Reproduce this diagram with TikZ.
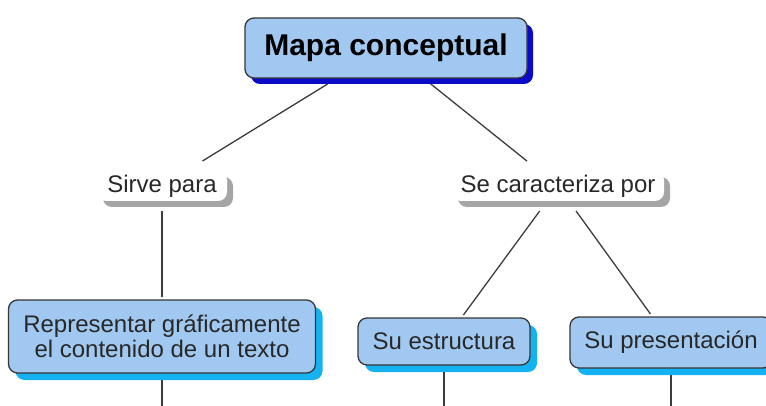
\documentclass[tikz,border=0pt]{standalone}
\usepackage{fontspec}
\setmainfont{Liberation Sans}
\usetikzlibrary{shadows}
\definecolor{concept colour}{RGB}{160,200,240}
\definecolor{title shadow colour}{RGB}{10,10,200}
\definecolor{concept shadow colour}{RGB}{20,178,240}
\definecolor{phrase shadow colour}{RGB}{165,165,165}
\definecolor{border colour}{RGB}{55,55,55}
\definecolor{link colour}{RGB}{60,60,60}
\definecolor{text colour}{RGB}{40,40,40}
\tikzset{
    % Plain dark connectors between the boxes
    link/.style={draw=link colour, line width=1.3pt},
%
    % Shadows are solid, not faded
    solid shadow/.style={drop shadow={
        shadow xshift=#1, shadow yshift=-#1, opacity=1}},
%
    % We almost always want centre aligned node text
    every node/.style={align=center},
}
\pgfdeclarelayer{background}
\pgfsetlayers{background,main}

\begin{document}
\begin{tikzpicture}[
    x=1pt, y=-1pt,
    basic box/.style={
        draw=border colour, line width=1.3pt, rounded corners=9pt,
        fill=concept colour, inner sep=0},
    title box/.style={
        basic box, font=\fontsize{30}{36}\selectfont\bfseries,
        minimum width=282pt, minimum height=60pt, outer sep=6pt,
        solid shadow=6pt, every shadow/.append style={fill=title shadow colour}},
    concept/.style={
        basic box, text=text colour, font=\fontsize{24}{25}\selectfont,
        outer sep=3pt,
        solid shadow=7pt, every shadow/.append style={fill=concept shadow colour}},
    phrase/.style={
        fill=white, rounded corners=9pt, text=text colour,
        font=\fontsize{24}{25}\selectfont, minimum height=30pt,
        inner sep=0, outer sep=10pt,
        solid shadow=6pt, every shadow/.append style={fill=phrase shadow colour}},
]

\useasboundingbox (0,0) rectangle (766,406);
\clip (0,0) rectangle (766,406);
\coordinate (page bottom) at (0,406);

% Place the boxes
\path
    (386,48) node [title box] (mapa) {Mapa conceptual}
    (162,186) node [phrase, minimum width=130pt] (sirve) {Sirve para}
    (558,186) node [phrase, minimum width=212pt] (caract) {Se caracteriza por}
    (162,336.5) node [concept, minimum width=307pt, minimum height=73pt]
        (rep) {Representar gráficamente\\el contenido de un texto}
    (444,341.5) node [concept, minimum width=172pt, minimum height=47pt]
        (estructura) {Su estructura}
    (671,342.5) node [concept, minimum width=202pt, minimum height=51pt]
        (presentacion) {Su presentación};

% Connectors go behind the boxes and their shadows
\begin{pgfonlayer}{background}
\draw [link] (mapa) -- (sirve);
\draw [link] (mapa) -- (caract);
\draw [link] (sirve) -- (rep);
\draw [link] (caract) -- (estructura);
\draw [link] (caract) -- (presentacion);
\draw [link] (rep) -- (rep |- page bottom);
\draw [link] (estructura) -- (estructura |- page bottom);
\draw [link] (presentacion) -- (presentacion |- page bottom);
\end{pgfonlayer}

\end{tikzpicture}
\end{document}
